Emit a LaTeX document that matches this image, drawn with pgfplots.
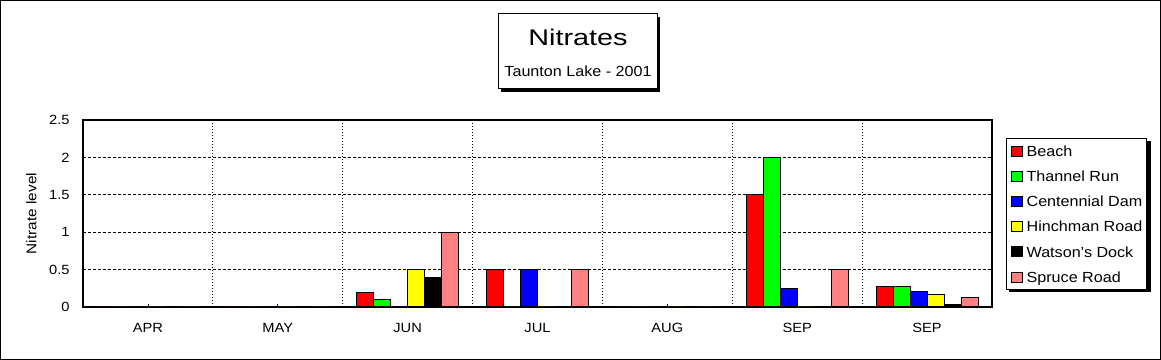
\documentclass[border=0pt]{standalone}
\usepackage{fontspec}
\setmainfont[FakeStretch=1.1]{Liberation Sans}
\newfontfamily\titlefont[FakeStretch=1.27]{Liberation Sans}
\usepackage{pgfplots}
\pgfplotsset{compat=1.18}
\usepackage{pgfplotstable}
\definecolor{cRed}{HTML}{FF0000}
\definecolor{cGreen}{HTML}{00FF00}
\definecolor{cBlue}{HTML}{0000FF}
\definecolor{cYellow}{HTML}{FFFF00}
\definecolor{cBlack}{HTML}{000000}
\definecolor{cPink}{HTML}{FF8080}
\pgfplotstableread{
x Beach Thannel Centennial Hinchman Watson Spruce
0 0    0    0    0    0    0
1 0    0    0    0    0    0
2 0.2  0.1  0    0.5  0.4  1.0
3 0.5  0    0.5  0    0    0.5
4 0    0    0    0    0    0
5 1.5  2.0  0.25 0    0    0.5
6 0.27 0.27 0.21 0.17 0.04 0.13
}\nitrates
\pgfplotsset{mybar/.style={draw=black, line width=0.75pt, fill=#1,
  legend image code/.code={\draw[fill=#1,draw=black,line width=0.6pt] (0pt,-3.75pt) rectangle (8pt,3.75pt);}}}
\begin{document}
\begin{tikzpicture}[x=0.75pt,y=0.75pt]
\useasboundingbox (0,0) rectangle (1161,360);
\draw[line width=0.9pt] (0.6,0.6) rectangle (1160.4,359.4);
% title box with shadow
\fill[black] (501,268) rectangle (660,343);
\draw[fill=white, line width=0.75pt] (498,271) rectangle (657,346);
\node[anchor=base, inner sep=0pt, font=\titlefont\fontsize{17}{20}\selectfont] at (578,314) {Nitrates};
\node[anchor=base, inner sep=0pt, font=\fontsize{11}{14}\selectfont] at (578,283.5) {Taunton Lake - 2001};
% legend shadow
\fill[black] (1009,68) rectangle (1151,219);
\begin{axis}[
  at={(62.25pt,39.75pt)}, anchor=south west,
  scale only axis, width=681.75pt, height=140.25pt,
  ybar=0pt, bar width=12.75pt,
  xmin=-0.5, xmax=6.5, ymin=0, ymax=2.5,
  xtick={0,...,6}, xticklabels={APR,MAY,JUN,JUL,AUG,SEP,SEP},
  ytick={0,0.5,1,1.5,2,2.5},
  /pgf/number format/assume math mode=true,
  ymajorgrids,
  major grid style={dash pattern=on 2.25pt off 1.5pt, black, line width=0.6pt},
  extra x ticks={0.5,1.5,2.5,3.5,4.5,5.5},
  extra x tick labels={},
  extra x tick style={xmajorgrids=true, major tick length=0pt,
    major grid style={dash pattern=on 0.75pt off 1.5pt, black, line width=0.75pt}},
  tick align=inside, major tick length=2.5pt,
  xtick pos=bottom, ytick style={draw=none},
  axis line style={line width=0.8pt},
  tick style={black, line width=0.6pt},
  tick label style={font=\fontsize{10}{11}\selectfont},
  xticklabel style={anchor=center, yshift=-15.75pt},
  yticklabel style={xshift=-6.5pt},
  ylabel={Nitrate level},
  every axis y label/.style={at={(axis description cs:-0.0567,0.5)}, rotate=90, anchor=center, font=\fontsize{10.5}{12}\selectfont},
  legend style={at={(1.0154,0.9037)}, anchor=north west, draw=black, line width=0.75pt, fill=white,
    inner xsep=3.5pt, inner ysep=5.5pt, row sep=10.75pt, column sep=3pt,
    nodes={inner sep=0pt, text height=7.9pt, text depth=0pt, font=\fontsize{11}{13}\selectfont},
    cells={anchor=west}},
  legend cell align=left,
]
\addplot[mybar=cRed] table[x=x,y=Beach]{\nitrates};
\addplot[mybar=cGreen] table[x=x,y=Thannel]{\nitrates};
\addplot[mybar=cBlue] table[x=x,y=Centennial]{\nitrates};
\addplot[mybar=cYellow] table[x=x,y=Hinchman]{\nitrates};
\addplot[mybar=cBlack] table[x=x,y=Watson]{\nitrates};
\addplot[mybar=cPink] table[x=x,y=Spruce]{\nitrates};
\legend{Beach,Thannel Run,Centennial Dam,Hinchman Road,Watson's Dock,Spruce Road}
\end{axis}
\end{tikzpicture}
\end{document}
